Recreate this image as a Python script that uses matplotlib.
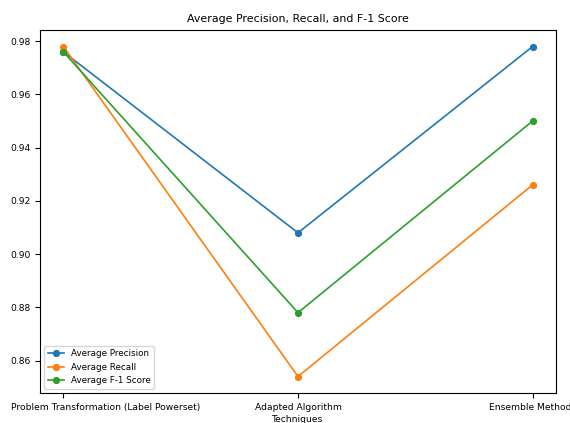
import matplotlib.pyplot as plt
from matplotlib.transforms import ScaledTranslation

# Technique categories and averaged scores
techniques = ["Problem Transformation (Label Powerset)",
              "Adapted Algorithm\nTechniques",
              "Ensemble Methods"]
avg_precision = [0.976, 0.908, 0.978]
avg_recall = [0.978, 0.854, 0.926]
avg_f1 = [0.976, 0.878, 0.950]

fig = plt.figure(figsize=(5.7, 4.23), dpi=100)
ax = fig.add_axes([0.0702, 0.0709, 0.9052, 0.858])

x = range(len(techniques))
ax.plot(x, avg_precision, marker='o', label="Average Precision", lw=1.2, ms=4.2)
ax.plot(x, avg_recall, marker='o', label="Average Recall", lw=1.2, ms=4.2)
ax.plot(x, avg_f1, marker='o', label="Average F-1 Score", lw=1.2, ms=4.2)

ax.set_xticks(list(x))
ax.set_xticklabels(techniques, fontsize=6.6, linespacing=1.5)
ax.tick_params(axis='y', labelsize=6.6)
ax.set_title("Average Precision, Recall, and F-1 Score", fontsize=7.9)
ax.legend(loc='lower left', fontsize=6.3, handlelength=1.8)

# first label sits shifted right so it stays inside the picture
lbl = ax.get_xticklabels()[0]
lbl.set_transform(lbl.get_transform() + ScaledTranslation(0.42, 0, fig.dpi_scale_trans))

fig.savefig("out.png", dpi=100)
